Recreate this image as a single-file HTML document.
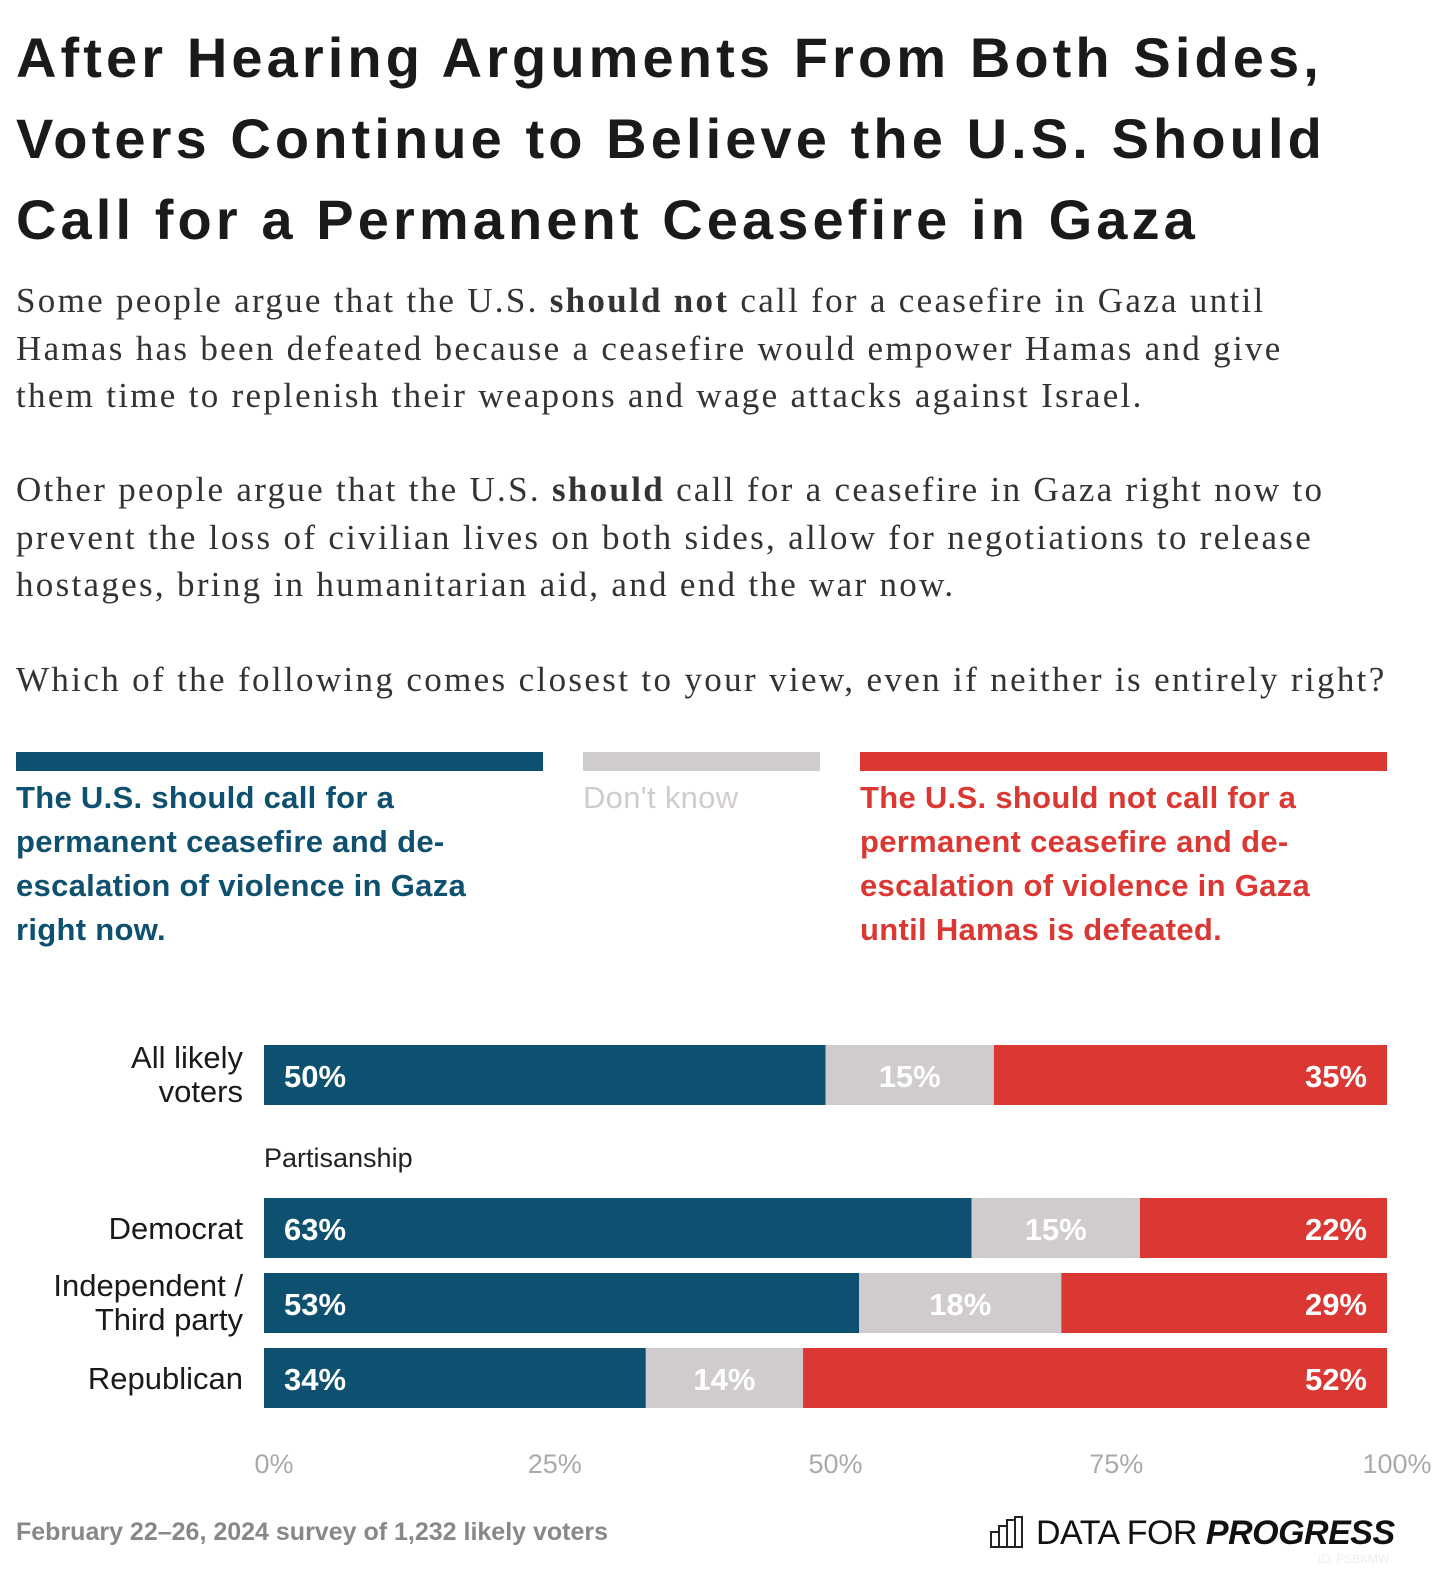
<!DOCTYPE html>
<html><head><meta charset="utf-8">
<style>
body{margin:0;width:1440px;height:1582px;background:#fff;position:relative;overflow:hidden;font-family:"Liberation Sans",sans-serif;}
.a{position:absolute;margin:0}
h1{position:absolute;left:16px;top:17px;margin:0;font-size:56px;line-height:81px;font-weight:700;color:#1a1a1a;letter-spacing:4.1px;width:1430px;white-space:nowrap}
.body{position:absolute;left:16px;font-family:"Liberation Serif",serif;font-size:35px;line-height:47.5px;color:#333;width:1430px;letter-spacing:2.3px;white-space:nowrap}
.leg{position:absolute;top:776px;font-size:31px;line-height:44px;font-weight:700;letter-spacing:0.3px}
.sw{position:absolute;top:752px;height:19px}
</style></head><body>
<h1>After Hearing Arguments From Both Sides,<br>Voters Continue to Believe the U.S. Should<br>Call for a Permanent Ceasefire in Gaza</h1>
<p class="body" style="top:242px">Some people argue that the U.S. <b>should not</b> call for a ceasefire in Gaza until<br>Hamas has been defeated because a ceasefire would empower Hamas and give<br>them time to replenish their weapons and wage attacks against Israel.</p>
<p class="body" style="top:431px">Other people argue that the U.S. <b>should</b> call for a ceasefire in Gaza right now to<br>prevent the loss of civilian lives on both sides, allow for negotiations to release<br>hostages, bring in humanitarian aid, and end the war now.</p>
<p class="body" style="top:621px;letter-spacing:2.35px">Which of the following comes closest to your view, even if neither is entirely right?</p>
<div class="sw" style="left:16px;width:527px;background:#0e5070"></div>
<div class="sw" style="left:583px;width:237px;background:#d0cbcf"></div>
<div class="sw" style="left:860px;width:527px;background:#dc3833"></div>
<div class="leg" style="left:16px;width:520px;color:#0e5070">The U.S. should call for a<br>permanent ceasefire and de-<br>escalation of violence in Gaza<br>right now.</div>
<div class="leg" style="left:583px;width:240px;color:#d0cbcf;font-weight:400">Don't know</div>
<div class="leg" style="left:860px;width:540px;color:#dc3833">The U.S. should not call for a<br>permanent ceasefire and de-<br>escalation of violence in Gaza<br>until Hamas is defeated.</div>
<svg id="chart" class="a" style="left:0;top:0" width="1440" height="1582"></svg>
<div class="a" style="left:16px;top:1518px;font-size:25px;color:#888;font-weight:700">February 22–26, 2024 survey of 1,232 likely voters</div>
<svg class="a" style="left:990px;top:1516px" width="34" height="32"><g fill="none" stroke="#222" stroke-width="2"><rect x="1" y="16" width="8" height="15"/><rect x="9" y="10" width="8" height="21"/><rect x="17" y="4" width="8" height="27"/><rect x="25" y="1" width="7" height="30"/></g></svg>
<div class="a" style="left:1036px;top:1514px;font-size:34px;color:#111;letter-spacing:-0.5px">DATA FOR <b><i>PROGRESS</i></b></div>
<div class="a" style="left:1318px;top:1552px;font-size:12px;color:#eee">ID: FSBKMW</div>
<script>
const categories=["All likely voters","Democrat","Independent / Third party","Republican"];
const ceasefire=[50,63,53,34];
const dontKnow=[15,15,18,14];
const noCeasefire=[35,22,29,52];
const ticks=[0,25,50,75,100];
const NS="http://www.w3.org/2000/svg";
const svg=document.getElementById('chart');
const x0=264,x1=1387;
const xs=v=>x0+(x1-x0)*v/100;
const rowTop=[1045,1198,1273,1348];
const labelLines=[["All likely","voters"],["Democrat"],["Independent /","Third party"],["Republican"]];
const bh=60;
function el(t,a){const e=document.createElementNS(NS,t);for(const k in a)e.setAttribute(k,a[k]);svg.appendChild(e);return e;}
const series=[[ceasefire,"#0e5070","ceasefire"],[dontKnow,"#d0cbcf","dont-know"],[noCeasefire,"#dc3833","no-ceasefire"]];
categories.forEach((c,i)=>{
  let acc=0;const y=rowTop[i];
  series.forEach(([arr,col,nm],s)=>{
    const v=arr[i];
    const r=el('rect',{x:xs(acc),y:y,width:xs(acc+v)-xs(acc),height:bh,fill:col});
    
    
    let tx,anchor;
    if(s===0){tx=xs(acc)+20;anchor='start';}
    else if(s===2){tx=xs(acc+v)-20;anchor='end';}
    else{tx=(xs(acc)+xs(acc+v))/2;anchor='middle';}
    const t=el('text',{x:tx,y:y+42,'text-anchor':anchor,fill:'#fff','font-size':31,'font-weight':700,'font-family':'Liberation Sans, sans-serif'});
    t.textContent=v+'%';
    
    
    acc+=v;
  });
  const lines=labelLines[i];
  lines.forEach((ln,j)=>{
    const yy=lines.length===1?y+41:y+23+j*34;
    const t=el('text',{x:243,y:yy,'text-anchor':'end',fill:'#1a1a1a','font-size':31,'font-family':'Liberation Sans, sans-serif'});
    t.textContent=ln;
    
    
  });
});
const p=el('text',{x:264,y:1167,fill:'#222','font-size':27,'font-family':'Liberation Sans, sans-serif'});
p.textContent='Partisanship';


ticks.forEach(v=>{
  const t=el('text',{x:xs(v)+10,y:1473,'text-anchor':'middle',fill:'#aaa','font-size':27,'font-family':'Liberation Sans, sans-serif'});
  t.textContent=v+'%';
  
  
});
</script>
</body></html>
